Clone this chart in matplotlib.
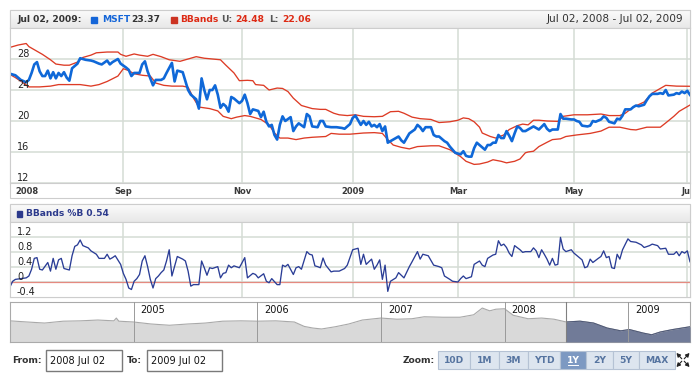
import numpy as np
import matplotlib
matplotlib.use('Agg')
import matplotlib.pyplot as plt
from matplotlib.patches import Rectangle
from matplotlib.colors import LinearSegmentedColormap

W, H = 700, 380

# x = trading-day index, 0 = Jul 02 2008 ... 252 = Jul 02 2009
price_day = [0, 2, 4, 6, 7, 8, 9, 10, 11, 12,
             13, 14, 15, 16, 17, 18, 19, 20, 21, 22,
             23, 25, 26, 28, 30, 31, 33, 34, 36, 37,
             38, 40, 41, 43, 44, 45, 46, 48, 49, 50,
             51, 53, 54, 56, 57, 58, 60, 61, 62, 64,
             66, 67, 69, 70, 71, 72, 73, 74, 75, 76,
             77, 78, 79, 80, 81, 82, 83, 85, 86, 87,
             88, 89, 90, 92, 93, 94, 95, 96, 97, 98,
             99, 100, 101, 102, 104, 105, 106, 107, 109, 110,
             111, 112, 114, 115, 116, 117, 119, 121, 123, 124,
             125, 126, 127, 128, 130, 131, 132, 133, 134, 135,
             136, 137, 138, 139, 140, 141, 143, 144, 145, 146,
             147, 148, 150, 151, 152, 153, 154, 156, 157, 158,
             159, 161, 162, 163, 164, 165, 167, 168, 169, 170,
             171, 172, 173, 174, 175, 176, 177, 178, 179, 180,
             181, 182, 183, 184, 185, 186, 187, 188, 189, 190,
             191, 193, 194, 195, 196, 198, 199, 200, 201, 203,
             204, 205, 206, 208, 209, 210, 211, 212, 214, 215,
             216, 217, 219, 220, 221, 222, 224, 225, 226, 227,
             228, 230, 231, 232, 233, 235, 236, 237, 238, 240,
             241, 242, 243, 244, 246, 247, 248, 249, 250, 251, 252]
price = [26.1, 25.9, 25.3, 25.0, 25.3, 26.2, 27.3, 27.6, 26.4, 25.8,
         25.8, 26.5, 25.5, 26.3, 25.5, 26.2, 25.8, 26.3, 25.6, 25.2,
         26.8, 27.4, 28.1, 27.9, 27.8, 27.7, 27.4, 27.3, 27.8, 27.3,
         27.6, 28.0, 27.4, 26.9, 26.6, 25.8, 26.2, 26.2, 27.3, 27.7,
         26.4, 24.6, 25.3, 25.3, 25.5, 26.2, 27.5, 25.1, 26.5, 26.3,
         24.0, 23.4, 22.8, 21.6, 25.5, 24.0, 22.8, 24.0, 24.0, 24.6,
         23.4, 21.7, 22.2, 21.9, 21.2, 23.1, 22.9, 22.3, 22.6, 23.4,
         22.3, 20.9, 21.5, 21.3, 20.5, 21.2, 19.9, 19.3, 19.5, 18.2,
         17.6, 19.5, 20.6, 20.0, 20.5, 18.7, 19.3, 19.7, 19.2, 20.9,
         20.6, 19.3, 19.2, 20.0, 20.0, 19.3, 19.2, 19.2, 19.1, 19.0,
         19.3, 19.6, 20.4, 20.7, 19.5, 20.0, 19.5, 19.9, 19.3, 19.5,
         19.2, 19.6, 18.7, 19.3, 17.2, 17.4, 17.8, 18.0, 17.5, 17.2,
         17.8, 18.4, 18.9, 19.5, 19.2, 18.7, 19.2, 19.2, 18.2, 18.0,
         18.0, 17.4, 17.2, 16.7, 16.3, 15.9, 15.7, 16.1, 15.5, 15.4,
         15.4, 16.5, 17.2, 16.9, 16.6, 16.3, 16.9, 16.9, 17.2, 17.2,
         18.2, 17.8, 17.8, 18.7, 18.1, 17.4, 18.4, 19.3, 19.1, 18.7,
         18.7, 19.1, 19.3, 19.1, 18.9, 19.6, 19.0, 18.7, 18.9, 18.9,
         20.9, 20.3, 20.3, 20.2, 20.2, 20.0, 19.9, 19.4, 19.3, 19.4,
         20.0, 19.9, 20.2, 20.6, 20.4, 19.9, 19.7, 20.3, 20.2, 20.7,
         21.5, 21.5, 21.8, 22.0, 21.9, 22.1, 22.7, 23.2, 23.5, 23.5,
         23.6, 23.5, 24.0, 23.3, 23.4, 23.6, 23.5, 23.8, 23.6, 23.9, 23.37]

upper_day = [0, 3, 6, 7, 10, 12, 15, 17, 20, 22,
             25, 27, 30, 32, 36, 40, 41, 43, 46, 48,
             51, 53, 56, 59, 63, 66, 69, 72, 75, 78,
             80, 83, 85, 88, 90, 91, 94, 96, 99, 101,
             103, 105, 108, 110, 112, 115, 117, 120, 122, 125,
             128, 131, 135, 138, 141, 144, 146, 149, 152, 156,
             159, 163, 166, 168, 170, 172, 174, 175, 178, 180,
             183, 185, 188, 190, 192, 194, 196, 199, 203, 205,
             209, 214, 219, 222, 226, 228, 231, 235, 238, 241,
             243, 247, 252]
upper = [29.5, 29.8, 30.0, 29.6, 29.0, 28.6, 27.9, 27.35, 27.2, 27.2,
         27.6, 28.2, 28.5, 28.8, 28.9, 28.9, 28.6, 28.35, 28.65, 28.5,
         28.35, 28.6, 28.3, 27.9, 27.7, 28.0, 28.3, 28.1, 28.0, 27.9,
         27.2, 26.2, 25.2, 25.25, 25.2, 24.7, 24.6, 24.0, 24.25, 24.2,
         23.8, 22.95, 22.0, 21.8, 21.6, 21.5, 21.5, 21.0, 20.8, 20.7,
         20.8, 20.6, 20.55, 20.6, 21.2, 21.25, 21.0, 20.5, 20.3, 20.2,
         19.8, 19.9, 20.1, 20.4, 20.3, 19.9, 19.2, 18.45, 18.0, 17.8,
         18.2, 18.9, 19.4, 19.6, 19.5, 20.1, 20.1, 20.0, 19.95, 20.6,
         20.8, 20.8, 20.9, 20.7, 20.7, 21.0, 21.8, 22.45, 23.6, 24.2,
         24.6, 24.5, 24.48]

lower_day = [0, 2, 5, 7, 11, 15, 18, 22, 26, 30,
             33, 36, 40, 42, 44, 46, 49, 52, 54, 57,
             60, 64, 66, 68, 70, 74, 77, 79, 82, 84,
             87, 89, 93, 96, 98, 100, 103, 106, 109, 112,
             117, 119, 122, 126, 131, 135, 138, 140, 142, 145,
             148, 151, 156, 159, 163, 167, 169, 172, 174, 177,
             179, 182, 184, 187, 189, 191, 192, 194, 196, 199,
             201, 204, 206, 210, 215, 219, 222, 226, 230, 232,
             236, 241, 243, 246, 248, 252]
lower = [26.0, 25.6, 24.9, 24.4, 24.4, 24.5, 24.7, 24.7, 24.7, 24.5,
         24.7, 25.1, 25.8, 26.75, 26.5, 26.1, 25.9, 25.8, 24.9, 24.6,
         24.5, 24.5, 24.35, 22.95, 21.8, 21.6, 21.3, 20.6, 20.3, 20.5,
         20.7, 20.6, 20.2, 19.5, 18.45, 17.8, 17.8, 17.6, 17.8, 17.9,
         18.0, 18.4, 18.3, 18.3, 18.45, 18.5, 18.4, 17.6, 16.9, 16.6,
         16.4, 16.7, 16.8, 16.8, 16.3, 15.4, 14.8, 14.4, 14.45, 14.7,
         15.0, 14.8, 14.6, 14.8, 15.1, 15.9, 16.0, 16.1, 16.7, 17.25,
         17.6, 17.7, 18.0, 18.2, 18.4, 18.7, 19.2, 19.2, 18.9, 18.85,
         19.2, 19.2, 19.75, 20.6, 21.25, 22.06]

pctb_day = [0, 1, 2, 4, 6, 7, 8, 9, 10, 11,
            12, 14, 15, 16, 17, 18, 19, 20, 22, 23,
            24, 25, 26, 27, 29, 30, 32, 33, 35, 36,
            37, 38, 39, 41, 42, 43, 44, 45, 46, 47,
            48, 49, 50, 51, 52, 53, 54, 55, 56, 57,
            58, 59, 60, 62, 64, 65, 66, 67, 68, 70,
            71, 72, 73, 74, 75, 77, 78, 79, 80, 81,
            82, 83, 85, 87, 88, 90, 91, 92, 94, 95,
            96, 97, 99, 100, 101, 102, 103, 105, 106, 107,
            108, 110, 111, 112, 113, 114, 115, 116, 117, 119,
            120, 122, 124, 125, 127, 129, 130, 131, 132, 133,
            134, 135, 136, 137, 138, 139, 140, 141, 143, 144,
            146, 148, 149, 151, 152, 153, 155, 157, 159, 160,
            161, 163, 164, 166, 167, 168, 169, 171, 172, 174,
            175, 176, 177, 179, 180, 181, 182, 183, 184, 185,
            186, 187, 189, 190, 191, 193, 194, 195, 196, 197,
            198, 199, 200, 201, 202, 203, 204, 205, 206, 208,
            209, 211, 212, 213, 214, 215, 216, 218, 219, 220,
            221, 222, 223, 224, 225, 226, 227, 229, 230, 232,
            234, 235, 237, 238, 240, 241, 243, 244, 246, 247,
            248, 249, 250, 251, 252]
pctb = [-0.13, 0.02, 0.07, 0.09, 0.11, 0.16, 0.34, 0.63, 0.65, 0.34,
        0.32, 0.52, 0.29, 0.63, 0.34, 0.59, 0.63, 0.36, 0.32, 0.70,
        0.95, 0.99, 1.12, 0.97, 0.91, 0.83, 0.74, 0.63, 0.63, 0.74,
        0.61, 0.65, 0.70, 0.47, 0.23, 0.07, -0.16, -0.20, 0.02, 0.09,
        0.20, 0.56, 0.70, 0.41, 0.07, -0.16, 0.09, 0.16, 0.25, 0.32,
        0.56, 0.86, 0.16, 0.68, 0.61, 0.56, 0.29, -0.11, -0.07, -0.07,
        0.56, 0.38, 0.18, 0.38, 0.36, 0.41, 0.11, 0.23, 0.25, 0.45,
        0.38, 0.43, 0.38, 0.65, 0.11, 0.23, 0.20, 0.11, 0.22, 0.02,
        -0.02, 0.09, -0.07, -0.07, 0.45, 0.41, 0.47, 0.20, 0.38, 0.41,
        0.34, 0.81, 0.74, 0.72, 0.43, 0.41, 0.38, 0.64, 0.45, 0.27,
        0.29, 0.29, 0.36, 0.45, 0.86, 0.90, 0.47, 0.74, 0.47, 0.54,
        0.61, 0.34, 0.45, 0.59, 0.07, 0.45, -0.25, 0.02, 0.11, 0.25,
        0.11, 0.41, 0.54, 0.81, 0.61, 0.74, 0.70, 0.45, 0.41, 0.38,
        0.16, 0.07, 0.02, 0.00, 0.09, 0.16, 0.09, 0.14, 0.47, 0.56,
        0.45, 0.41, 0.63, 0.72, 0.74, 1.10, 0.97, 1.01, 0.92, 0.77,
        0.68, 0.97, 0.86, 0.79, 0.81, 0.81, 0.91, 0.83, 0.65, 0.86,
        0.74, 0.61, 0.45, 0.63, 0.45, 0.47, 1.19, 0.88, 0.81, 0.86,
        0.77, 0.65, 0.59, 0.38, 0.41, 0.61, 0.52, 0.63, 0.68, 0.83,
        0.65, 0.68, 0.38, 0.36, 0.74, 0.61, 0.86, 1.15, 1.08, 1.06,
        0.99, 0.92, 0.97, 1.01, 0.97, 0.88, 0.90, 0.74, 0.74, 0.81,
        0.70, 0.81, 0.77, 0.83, 0.54]

month_day = [0, 42, 86, 127, 166, 209, 251]
month_label = ['2008', 'Sep', 'Nov', '2009', 'Mar', 'May', 'Jul']
price_ticks = [12, 16, 20, 24, 28]
pctb_ticks = [-0.4, 0, 0.4, 0.8, 1.2]

# navigator (whole history), x in years
nav_year = [2004.00, 2004.14, 2004.28, 2004.43, 2004.57, 2004.71, 2004.84, 2004.86, 2004.88,
            2005.00, 2005.14, 2005.29, 2005.44, 2005.58, 2005.72, 2005.87,
            2006.00, 2006.15, 2006.30, 2006.38, 2006.45, 2006.52, 2006.63, 2006.74, 2006.85,
            2007.00, 2007.13, 2007.25, 2007.35, 2007.50, 2007.64, 2007.75, 2007.82, 2007.88, 2007.93,
            2008.00, 2008.07, 2008.19, 2008.30, 2008.40, 2008.50, 2008.61, 2008.72, 2008.83, 2008.94,
            2009.01, 2009.12, 2009.19, 2009.26, 2009.36, 2009.50]
nav_price = [27.0, 26.0, 25.1, 26.7, 27.0, 27.7, 27.0, 29.4, 26.7,
             26.0, 24.3, 23.2, 24.3, 25.1, 26.7, 27.0,
             26.7, 27.0, 26.0, 22.2, 20.8, 20.0, 21.9, 24.3, 27.7,
             29.4, 28.4, 28.8, 30.5, 30.1, 30.1, 32.2, 38.0, 35.6, 37.0,
             37.4, 31.8, 28.8, 29.4, 28.4, 26.0, 26.7, 25.1, 20.8, 18.4,
             19.5, 16.5, 15.0, 17.4, 19.5, 21.9]
nav_years = [2005, 2006, 2007, 2008, 2009]
sel_start, sel_end = 2008.5, 2009.5

zoom_buttons = ['10D', '1M', '3M', 'YTD', '1Y', '2Y', '5Y', 'MAX']

GRID = '#d5dcd5'
BORDER = '#cdcdcd'
bar_cmap = LinearSegmentedColormap.from_list('bar', ['#fbfbfb', '#e8e8e8'])


def px_axes(fig, x0, y0, x1, y1):
    return fig.add_axes([x0 / W, 1 - y1 / H, (x1 - x0) / W, (y1 - y0) / H])


def header_bar(ax, x0, y0, x1, y1):
    grad = np.linspace(0, 1, 32)[:, None]
    ax.imshow(grad, cmap=bar_cmap, extent=(x0, x1, y1, y0), aspect='auto', zorder=1)
    ax.add_patch(Rectangle((x0, y0), x1 - x0, y1 - y0, fill=False, ec=BORDER, lw=0.8, zorder=2))


def style_plot(ax, ylim, yticks):
    ax.set_xlim(0, 252)
    ax.set_ylim(*ylim)
    ax.set_xticks(month_day)
    ax.set_yticks(yticks)
    ax.grid(True, color=GRID, lw=1.1)
    ax.set_axisbelow(True)
    ax.tick_params(length=0, labelbottom=False, labelleft=False)
    for s in ax.spines.values():
        s.set_color(BORDER)
        s.set_linewidth(0.8)


fig = plt.figure(figsize=(7, 3.8), dpi=100)

bg = px_axes(fig, 0, 0, 700, 380)
bg.axis('off')

# panel frames + header bars
bg.add_patch(Rectangle((10, 10), 680, 188, fill=False, ec=BORDER, lw=0.8))
bg.add_patch(Rectangle((10, 204), 680, 93, fill=False, ec=BORDER, lw=0.8))
header_bar(bg, 10, 10, 690, 28)
header_bar(bg, 10, 204, 690, 222)

# main header legend
hy = 19.5
bfs = 6.6
bg.text(17, hy, 'Jul 02, 2009:', fontsize=bfs, weight='bold', color='#333333', va='center')
bg.add_patch(Rectangle((91, 16.5), 6, 6, color='#1566d8', zorder=3))
bg.text(102, hy, 'MSFT', fontsize=bfs, weight='bold', color='#1566d8', va='center')
bg.text(131, hy, '23.37', fontsize=bfs, weight='bold', color='#333333', va='center')
bg.add_patch(Rectangle((171, 16.5), 6, 6, color='#cc3322', zorder=3))
bg.text(180, hy, 'BBands', fontsize=bfs, weight='bold', color='#dd2a14', va='center')
bg.text(221, hy, 'U:', fontsize=bfs, weight='bold', color='#555555', va='center')
bg.text(235, hy, '24.48', fontsize=bfs, weight='bold', color='#dd2a14', va='center')
bg.text(269, hy, 'L:', fontsize=bfs, weight='bold', color='#555555', va='center')
bg.text(282, hy, '22.06', fontsize=bfs, weight='bold', color='#dd2a14', va='center')
bg.text(683, hy, 'Jul 02, 2008 - Jul 02, 2009', fontsize=7.6, color='#333333',
        va='center', ha='right')

# lower header legend
bg.add_patch(Rectangle((16.5, 211), 5.5, 5.5, color='#2c3a8c', zorder=3))
bg.text(26, 213.5, 'BBands %B 0.54', fontsize=bfs, weight='bold', color='#2c3a8c', va='center')

# main price plot
ax1 = px_axes(fig, 10, 28, 690, 183)
style_plot(ax1, (12, 32), price_ticks)
ax1.plot(upper_day, upper, color='#dd3b25', lw=0.95)
ax1.plot(lower_day, lower, color='#dd3b25', lw=0.95)
ax1.plot(price_day, price, color='#0f68d8', lw=1.9)
for v in price_ticks:
    ax1.text(7 / 680, v, str(v), transform=ax1.get_yaxis_transform(),
             fontsize=7, color='#222222', va='bottom', ha='left')

# month labels strip
axm = px_axes(fig, 10, 183, 690, 198)
axm.set_xlim(0, 252)
axm.set_ylim(0, 1)
axm.axis('off')
for i, (d, lab) in enumerate(zip(month_day, month_label)):
    if i == 0:
        axm.text(d + 5 / 2.698, 0.45, lab, fontsize=6, weight='bold', color='#3a3a3a',
                 ha='left', va='center', clip_on=True)
    else:
        axm.text(d, 0.45, lab, fontsize=6, weight='bold', color='#3a3a3a',
                 ha='center', va='center', clip_on=True)

# %B plot
ax2 = px_axes(fig, 10, 222, 690, 297)
style_plot(ax2, (-0.4, 1.6), [0, 0.4, 0.8, 1.2])
ax2.axhline(0, color='#e58a80', lw=0.9)
ax2.plot(pctb_day, pctb, color='#2a3d96', lw=0.95)
for v in pctb_ticks:
    lab = '0' if v == 0 else ('%.1f' % v)
    ax2.text(7 / 680, v, lab, transform=ax2.get_yaxis_transform(),
             fontsize=7, color='#222222', va='bottom', ha='left')

# navigator
axn = px_axes(fig, 10, 302, 690, 342)
axn.set_xlim(2004.0, 2009.5)
axn.set_ylim(8.8, 43.2)
axn.set_xticks([])
axn.set_yticks([])
for s in axn.spines.values():
    s.set_color('#aaaaaa')
    s.set_linewidth(0.8)
axn.fill_between(nav_year, nav_price, 8.8, color='#d9d9d9', lw=0)
axn.plot(nav_year, nav_price, color='#a9a9a9', lw=0.8)
clip = Rectangle((sel_start, 0), sel_end - sel_start, 60, transform=axn.transData)
sel_fill = axn.fill_between(nav_year, nav_price, 8.8, color='#717b98', lw=0, zorder=3)
sel_fill.set_clip_path(clip)
sel_line, = axn.plot(nav_year, nav_price, color='#505a78', lw=0.8, zorder=3)
sel_line.set_clip_path(clip)
axn.axvline(sel_start, color='#808080', lw=0.8, zorder=4)
for y in nav_years:
    axn.axvline(y, color='#9a9a9a', lw=0.7, zorder=4)
    axn.text(y + 0.057, 0.93, str(y), transform=axn.get_xaxis_transform(),
             fontsize=7, color='#111111', va='top', ha='left', zorder=5)

# bottom controls
cy = 360.5
bg.text(12, cy, 'From:', fontsize=bfs, weight='bold', color='#333333', va='center')
bg.add_patch(Rectangle((46, 350), 76, 21, fc='white', ec='#7a7a7a', lw=1.0))
bg.text(50, cy, '2008 Jul 02', fontsize=7, color='#111111', va='center')
bg.text(127, cy, 'To:', fontsize=bfs, weight='bold', color='#333333', va='center')
bg.add_patch(Rectangle((147, 350), 75, 21, fc='white', ec='#7a7a7a', lw=1.0))
bg.text(151, cy, '2009 Jul 02', fontsize=7, color='#111111', va='center')

bg.text(403, cy, 'Zoom:', fontsize=bfs, weight='bold', color='#333333', va='center')
edges = [438, 470, 499, 528, 560, 586, 612.5, 639, 675]
for lab, x0, x1 in zip(zoom_buttons, edges[:-1], edges[1:]):
    sel = lab == '1Y'
    bg.add_patch(Rectangle((x0, 351), x1 - x0, 18, fc='#7d99c2' if sel else '#dde5ef',
                           ec='#b5c2d4', lw=0.8))
    bg.text((x0 + x1) / 2, cy, lab, fontsize=bfs, weight='bold',
            color='white' if sel else '#5674a0', ha='center', va='center')
    if sel:
        bg.plot([x0 + 8, x1 - 8], [365, 365], color='white', lw=0.7)

# fullscreen icon: four arrows pointing to the corners
fx, fy = 683, 360
for dx, dy in [(-1, -1), (1, -1), (-1, 1), (1, 1)]:
    bg.annotate('', xy=(fx + dx * 6.5, fy + dy * 7), xytext=(fx + dx * 1.2, fy + dy * 1.2),
                arrowprops=dict(arrowstyle='-|>,head_width=0.12,head_length=0.22',
                                color='#222222', lw=0.8, shrinkA=0, shrinkB=0))

bg.set_xlim(0, 700)
bg.set_ylim(380, 0)

fig.savefig('out.png', dpi=100, facecolor='white')
